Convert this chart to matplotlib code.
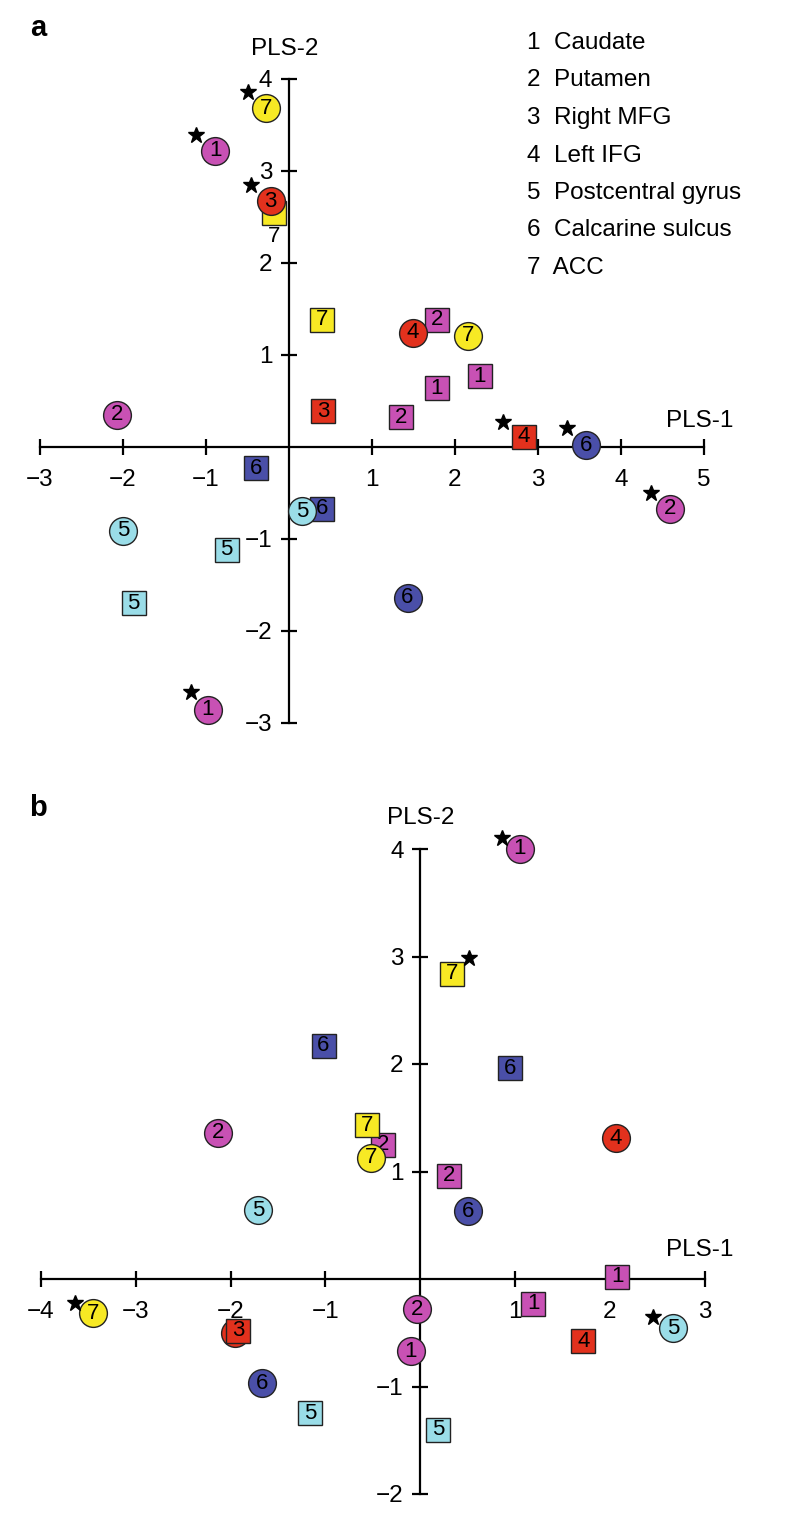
import matplotlib
matplotlib.use('Agg')
import matplotlib.pyplot as plt

plt.rcParams['font.family'] = ['Liberation Sans', 'DejaVu Sans']

# Region names (legend)
regions = ['Caudate', 'Putamen', 'Right MFG', 'Left IFG', 'Postcentral gyrus',
           'Calcarine sulcus', 'ACC']
region_colors = {1: '#c851b4', 2: '#c851b4', 3: '#e2311d', 4: '#e2311d',
                 5: '#9adde8', 6: '#4a4fa8', 7: '#f7e924'}

# Panel a data (draw order matters for overlaps)
a_x = [-2.07, -2.00, -1.87, -0.75, -0.98, -0.39, 0.40, 0.16, -0.89, -0.28, -0.18, -0.22,
       0.40, 0.41, 1.35, 1.78, 2.30, 1.78, 1.49, 2.16, 2.83, 3.58, 4.59, 1.43]
a_y = [0.35, -0.91, -1.70, -1.12, -2.86, -0.23, -0.67, -0.70, 3.22, 3.68, 2.54, 2.67,
       1.38, 0.39, 0.32, 0.64, 0.77, 1.38, 1.24, 1.21, 0.11, 0.02, -0.67, -1.64]
a_region = [2, 5, 5, 5, 1, 6, 6, 5, 1, 7, 7, 3, 7, 3, 2, 1, 1, 2, 4, 7, 4, 6, 2, 6]
a_shape = ['o', 'o', 's', 's', 'o', 's', 's', 'o', 'o', 'o', 's', 'o',
           's', 's', 's', 's', 's', 's', 'o', 'o', 's', 'o', 'o', 'o']
# the yellow square under red circle 3 has its number printed below it
a_label_dy = [0] * 10 + [-17] + [0] * 13
a_star_x = [-0.49, -1.12, -0.46, 2.58, 3.35, 4.36, -1.18]
a_star_y = [3.86, 3.39, 2.85, 0.27, 0.20, -0.50, -2.67]

# Panel b data
b_x = [1.05, -0.10, 2.08, 1.19, -2.13, -0.03, -0.39, 0.30, -1.95, -1.92, 2.06, 1.72,
       -1.71, 2.67, -1.16, 0.19, 0.50, -1.67, -1.02, 0.95, -0.52, -3.45, -0.56, 0.34]
b_y = [4.00, -0.67, 0.02, -0.23, 1.36, -0.28, 1.25, 0.96, -0.50, -0.48, 1.31, -0.58,
       0.64, -0.46, -1.25, -1.40, 0.63, -0.97, 2.17, 1.96, 1.13, -0.32, 1.43, 2.84]
b_region = [1, 1, 1, 1, 2, 2, 2, 2, 3, 3, 4, 4, 5, 5, 5, 5, 6, 6, 6, 6, 7, 7, 7, 7]
b_shape = ['o', 'o', 's', 's', 'o', 'o', 's', 's', 'o', 's', 'o', 's',
           'o', 'o', 's', 's', 'o', 'o', 's', 's', 'o', 'o', 's', 's']
b_label_dy = [0] * 24
b_star_x = [0.86, 0.51, -3.64, 2.46]
b_star_y = [4.10, 2.99, -0.22, -0.35]

W, H = 800, 1529
fig = plt.figure(figsize=(W / 100, H / 100), dpi=100)


def fmt(t):
    return '\u2212%d' % -t if t < 0 else str(t)


def make_axes(left_px, top_px, width_px, height_px, xlim, ylim, xticks, yticks):
    ax = fig.add_axes([left_px / W, (H - top_px - height_px) / H, width_px / W, height_px / H])
    ax.set_xlim(*xlim)
    ax.set_ylim(*ylim)
    ax.patch.set_visible(False)
    for s in ['top', 'right']:
        ax.spines[s].set_visible(False)
    ax.spines['left'].set_position(('data', 0))
    ax.spines['bottom'].set_position(('data', 0))
    ax.spines['left'].set_bounds(min(yticks), max(yticks))
    ax.spines['bottom'].set_bounds(min(xticks), max(xticks))
    for s in ['left', 'bottom']:
        ax.spines[s].set_linewidth(1.6)
    xt = [t for t in xticks if t != 0]
    yt = [t for t in yticks if t != 0]
    ax.set_xticks(xt)
    ax.set_yticks(yt)
    ax.set_xticklabels([fmt(t) for t in xt])
    ax.set_yticklabels([fmt(t) for t in yt])
    ax.tick_params(direction='inout', length=12, width=1.6, labelsize=17.5)
    ax.tick_params(axis='x', pad=10)
    ax.tick_params(axis='y', pad=6)
    return ax


def draw_points(ax, xs, ys, regs, shapes, label_dy):
    for i, (x, y, r, m, dy) in enumerate(zip(xs, ys, regs, shapes, label_dy)):
        size = 20 if m == 'o' else 17
        ax.plot(x, y, marker=m, markersize=size, color=region_colors[r],
                markeredgecolor='#222222', markeredgewidth=1.0,
                linestyle='none', clip_on=False, zorder=3 + 2 * i)
        ax.annotate(str(r), (x, y), xytext=(0, dy), textcoords='offset points',
                    ha='center', va='center', fontsize=16,
                    zorder=(100 if dy else 4 + 2 * i), annotation_clip=False)


# Panel a
ax_a = make_axes(15, 51.4, 722, 699, (-3.3, 5.4), (-3.3, 4.3),
                 list(range(-3, 6)), list(range(-3, 5)))
draw_points(ax_a, a_x, a_y, a_region, a_shape, a_label_dy)
ax_a.plot(a_star_x, a_star_y, marker='*', markersize=12, color='black',
          linestyle='none', clip_on=False, zorder=100)
ax_a.text(-0.05, 4.33, 'PLS-2', ha='center', va='center', fontsize=17.5)
ax_a.text(4.95, 0.28, 'PLS-1', ha='center', va='center', fontsize=17.5)

# Panel b
ax_b = make_axes(12.6, 816.75, 720.5, 709.5, (-4.3, 3.3), (-2.3, 4.3),
                 list(range(-4, 4)), list(range(-2, 5)))
draw_points(ax_b, b_x, b_y, b_region, b_shape, b_label_dy)
ax_b.plot(b_star_x, b_star_y, marker='*', markersize=12, color='black',
          linestyle='none', clip_on=False, zorder=100)
ax_b.text(0, 4.29, 'PLS-2', ha='center', va='center', fontsize=17.5)
ax_b.text(2.95, 0.27, 'PLS-1', ha='center', va='center', fontsize=17.5)

# Legend
for i, name in enumerate(regions):
    fig.text(527 / W, 1 - (43 + 37.5 * i) / H, '%d  %s' % (i + 1, name),
             ha='left', va='center', fontsize=17.5)

# Panel letters
fig.text(38 / W, 1 - 28 / H, 'a', fontsize=21, fontweight='bold', ha='center', va='center')
fig.text(38 / W, 1 - 808 / H, 'b', fontsize=21, fontweight='bold', ha='center', va='center')

fig.savefig('out.png', dpi=100)
